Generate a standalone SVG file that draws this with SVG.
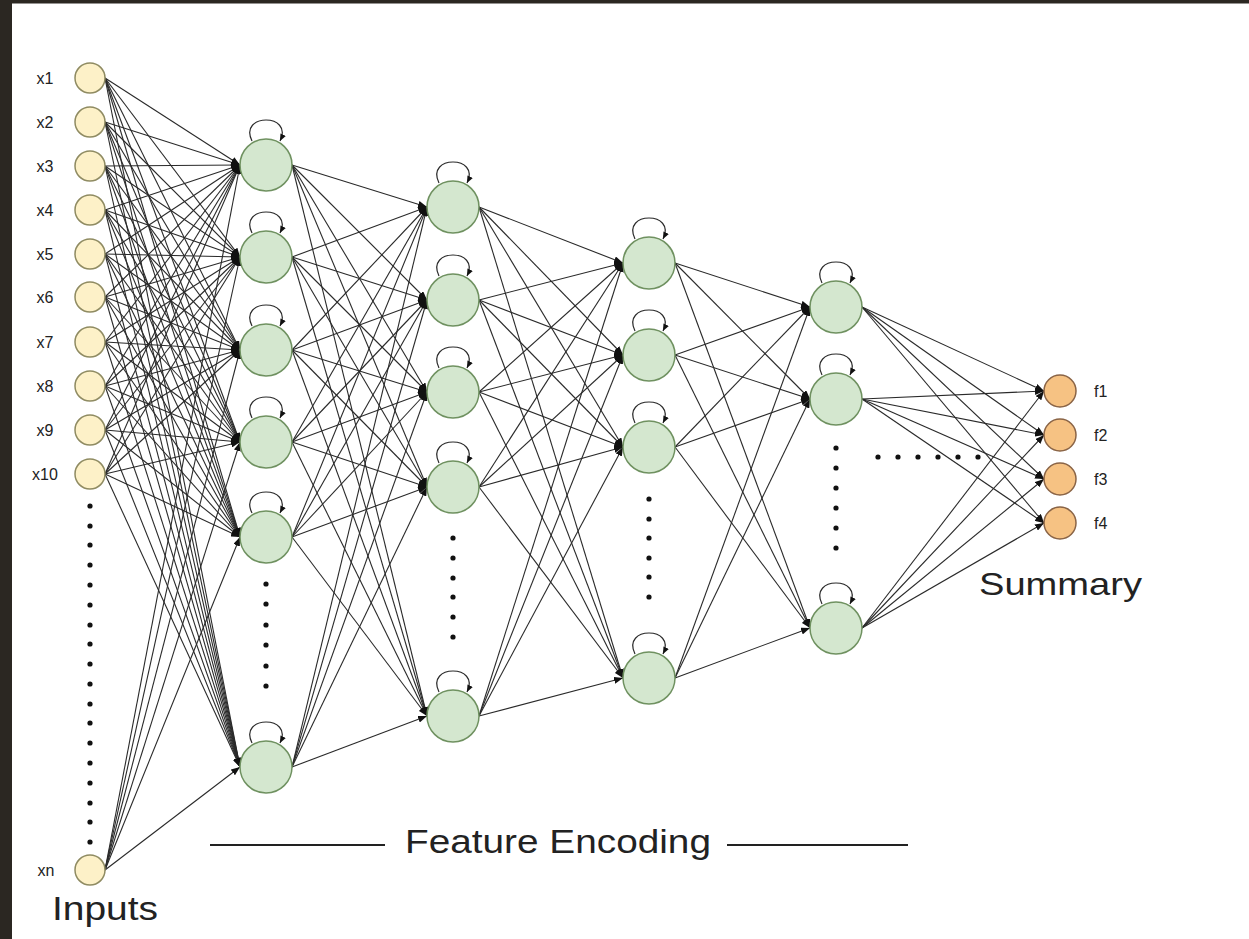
<svg xmlns="http://www.w3.org/2000/svg" width="1249" height="939" viewBox="0 0 1249 939">
  <style>
    .edge { stroke: #2a2a2a; stroke-width: 1.1; fill: none; marker-end: url(#ah); }
    .loop { stroke: #2a2a2a; stroke-width: 1.2; fill: none; marker-end: url(#ahs); }
    .in { fill: #fdf1c8; stroke: #8f8b62; stroke-width: 1.5; }
    .hid { fill: #d4e7cf; stroke: #6f9160; stroke-width: 1.5; }
    .out { fill: #f6c283; stroke: #8a6446; stroke-width: 1.5; }
    .dot { fill: #111; }
    .lbl { font-family: "Liberation Sans", Arial, sans-serif; fill: #222; }
    .small { font-size: 16px; }
    .big { font-size: 34px; }
  </style>
  <defs>
    <marker id="ah" markerWidth="9" markerHeight="7" refX="9" refY="3.5" orient="auto" markerUnits="userSpaceOnUse">
      <path d="M0,0 L9,3.5 L0,7 z" fill="#111"/>
    </marker>
    <marker id="ahs" markerWidth="7" markerHeight="6" refX="7" refY="3" orient="auto" markerUnits="userSpaceOnUse">
      <path d="M0,0 L7,3 L0,6 z" fill="#111"/>
    </marker>
    <circle id="d" r="2.6" class="dot"/>
  </defs>

  <!-- page frame -->
  <rect x="0" y="0" width="1249" height="939" fill="#ffffff"/>
  <rect x="0" y="0" width="1249" height="3.5" fill="#2b2722"/>
  <rect x="0" y="0" width="12" height="939" fill="#2b2722"/>

  <g id="connectors">
    <!-- inputs to encoding layer 1 -->
    <path class="edge" d="M105 78L240 165"/><path class="edge" d="M105 78L240 257"/><path class="edge" d="M105 78L240 350"/><path class="edge" d="M105 78L240 442"/><path class="edge" d="M105 78L240 537"/><path class="edge" d="M105 78L240 767"/>
    <path class="edge" d="M105 122L240 165"/><path class="edge" d="M105 122L240 257"/><path class="edge" d="M105 122L240 350"/><path class="edge" d="M105 122L240 442"/><path class="edge" d="M105 122L240 537"/><path class="edge" d="M105 122L240 767"/>
    <path class="edge" d="M105 166L240 165"/><path class="edge" d="M105 166L240 257"/><path class="edge" d="M105 166L240 350"/><path class="edge" d="M105 166L240 442"/><path class="edge" d="M105 166L240 537"/><path class="edge" d="M105 166L240 767"/>
    <path class="edge" d="M105 210L240 165"/><path class="edge" d="M105 210L240 257"/><path class="edge" d="M105 210L240 350"/><path class="edge" d="M105 210L240 442"/><path class="edge" d="M105 210L240 537"/><path class="edge" d="M105 210L240 767"/>
    <path class="edge" d="M105 254L240 165"/><path class="edge" d="M105 254L240 257"/><path class="edge" d="M105 254L240 350"/><path class="edge" d="M105 254L240 442"/><path class="edge" d="M105 254L240 537"/><path class="edge" d="M105 254L240 767"/>
    <path class="edge" d="M105 297L240 165"/><path class="edge" d="M105 297L240 257"/><path class="edge" d="M105 297L240 350"/><path class="edge" d="M105 297L240 442"/><path class="edge" d="M105 297L240 537"/><path class="edge" d="M105 297L240 767"/>
    <path class="edge" d="M105 342L240 165"/><path class="edge" d="M105 342L240 257"/><path class="edge" d="M105 342L240 350"/><path class="edge" d="M105 342L240 442"/><path class="edge" d="M105 342L240 537"/><path class="edge" d="M105 342L240 767"/>
    <path class="edge" d="M105 386L240 165"/><path class="edge" d="M105 386L240 257"/><path class="edge" d="M105 386L240 350"/><path class="edge" d="M105 386L240 442"/><path class="edge" d="M105 386L240 537"/><path class="edge" d="M105 386L240 767"/>
    <path class="edge" d="M105 430L240 165"/><path class="edge" d="M105 430L240 257"/><path class="edge" d="M105 430L240 350"/><path class="edge" d="M105 430L240 442"/><path class="edge" d="M105 430L240 537"/><path class="edge" d="M105 430L240 767"/>
    <path class="edge" d="M105 474L240 165"/><path class="edge" d="M105 474L240 257"/><path class="edge" d="M105 474L240 350"/><path class="edge" d="M105 474L240 442"/><path class="edge" d="M105 474L240 537"/><path class="edge" d="M105 474L240 767"/>
    <path class="edge" d="M105 870L240 165"/><path class="edge" d="M105 870L240 257"/><path class="edge" d="M105 870L240 350"/><path class="edge" d="M105 870L240 442"/><path class="edge" d="M105 870L240 537"/><path class="edge" d="M105 870L240 767"/>

    <!-- encoding layer 1 to layer 2 -->
    <path class="edge" d="M292 165L427 207"/><path class="edge" d="M292 165L427 300"/><path class="edge" d="M292 165L427 392"/><path class="edge" d="M292 165L427 487"/><path class="edge" d="M292 165L427 716"/>
    <path class="edge" d="M292 257L427 207"/><path class="edge" d="M292 257L427 300"/><path class="edge" d="M292 257L427 392"/><path class="edge" d="M292 257L427 487"/><path class="edge" d="M292 257L427 716"/>
    <path class="edge" d="M292 350L427 207"/><path class="edge" d="M292 350L427 300"/><path class="edge" d="M292 350L427 392"/><path class="edge" d="M292 350L427 487"/><path class="edge" d="M292 350L427 716"/>
    <path class="edge" d="M292 442L427 207"/><path class="edge" d="M292 442L427 300"/><path class="edge" d="M292 442L427 392"/><path class="edge" d="M292 442L427 487"/><path class="edge" d="M292 442L427 716"/>
    <path class="edge" d="M292 537L427 207"/><path class="edge" d="M292 537L427 300"/><path class="edge" d="M292 537L427 392"/><path class="edge" d="M292 537L427 487"/><path class="edge" d="M292 537L427 716"/>
    <path class="edge" d="M292 767L427 207"/><path class="edge" d="M292 767L427 300"/><path class="edge" d="M292 767L427 392"/><path class="edge" d="M292 767L427 487"/><path class="edge" d="M292 767L427 716"/>

    <!-- layer 2 to layer 3 -->
    <path class="edge" d="M479 207L623 263"/><path class="edge" d="M479 207L623 355"/><path class="edge" d="M479 207L623 447"/><path class="edge" d="M479 207L623 678"/>
    <path class="edge" d="M479 300L623 263"/><path class="edge" d="M479 300L623 355"/><path class="edge" d="M479 300L623 447"/><path class="edge" d="M479 300L623 678"/>
    <path class="edge" d="M479 392L623 263"/><path class="edge" d="M479 392L623 355"/><path class="edge" d="M479 392L623 447"/><path class="edge" d="M479 392L623 678"/>
    <path class="edge" d="M479 487L623 263"/><path class="edge" d="M479 487L623 355"/><path class="edge" d="M479 487L623 447"/><path class="edge" d="M479 487L623 678"/>
    <path class="edge" d="M479 716L623 263"/><path class="edge" d="M479 716L623 355"/><path class="edge" d="M479 716L623 447"/><path class="edge" d="M479 716L623 678"/>

    <!-- layer 3 to layer 4 -->
    <path class="edge" d="M675 263L810 307"/><path class="edge" d="M675 263L810 399"/><path class="edge" d="M675 263L810 628"/>
    <path class="edge" d="M675 355L810 307"/><path class="edge" d="M675 355L810 399"/><path class="edge" d="M675 355L810 628"/>
    <path class="edge" d="M675 447L810 307"/><path class="edge" d="M675 447L810 399"/><path class="edge" d="M675 447L810 628"/>
    <path class="edge" d="M675 678L810 307"/><path class="edge" d="M675 678L810 399"/><path class="edge" d="M675 678L810 628"/>

    <!-- layer 4 to summary features -->
    <path class="edge" d="M862 307L1044 391"/><path class="edge" d="M862 307L1044 435"/><path class="edge" d="M862 307L1044 479"/><path class="edge" d="M862 307L1044 523"/>
    <path class="edge" d="M862 399L1044 391"/><path class="edge" d="M862 399L1044 435"/><path class="edge" d="M862 399L1044 479"/><path class="edge" d="M862 399L1044 523"/>
    <path class="edge" d="M862 628L1044 391"/><path class="edge" d="M862 628L1044 435"/><path class="edge" d="M862 628L1044 479"/><path class="edge" d="M862 628L1044 523"/>
  </g>

  <!-- input nodes -->
  <g id="x1"><circle class="in" cx="90" cy="78" r="15"/><text class="lbl small" x="45" y="84" text-anchor="middle">x1</text></g>
  <g id="x2"><circle class="in" cx="90" cy="122" r="15"/><text class="lbl small" x="45" y="128" text-anchor="middle">x2</text></g>
  <g id="x3"><circle class="in" cx="90" cy="166" r="15"/><text class="lbl small" x="45" y="172" text-anchor="middle">x3</text></g>
  <g id="x4"><circle class="in" cx="90" cy="210" r="15"/><text class="lbl small" x="45" y="216" text-anchor="middle">x4</text></g>
  <g id="x5"><circle class="in" cx="90" cy="254" r="15"/><text class="lbl small" x="45" y="260" text-anchor="middle">x5</text></g>
  <g id="x6"><circle class="in" cx="90" cy="297" r="15"/><text class="lbl small" x="45" y="303" text-anchor="middle">x6</text></g>
  <g id="x7"><circle class="in" cx="90" cy="342" r="15"/><text class="lbl small" x="45" y="348" text-anchor="middle">x7</text></g>
  <g id="x8"><circle class="in" cx="90" cy="386" r="15"/><text class="lbl small" x="45" y="392" text-anchor="middle">x8</text></g>
  <g id="x9"><circle class="in" cx="90" cy="430" r="15"/><text class="lbl small" x="45" y="436" text-anchor="middle">x9</text></g>
  <g id="x10"><circle class="in" cx="90" cy="474" r="15"/><text class="lbl small" x="45" y="480" text-anchor="middle">x10</text></g>
  <g id="xn"><circle class="in" cx="90" cy="870" r="15"/><text class="lbl small" x="46" y="876" text-anchor="middle">xn</text></g>

  <!-- encoding layer 1 -->
  <g id="h1-1"><path class="loop" d="M252 141C238 113 294 113 280 141"/><circle class="hid" cx="266" cy="165" r="26"/></g>
  <g id="h1-2"><path class="loop" d="M252 233C238 205 294 205 280 233"/><circle class="hid" cx="266" cy="257" r="26"/></g>
  <g id="h1-3"><path class="loop" d="M252 326C238 298 294 298 280 326"/><circle class="hid" cx="266" cy="350" r="26"/></g>
  <g id="h1-4"><path class="loop" d="M252 418C238 390 294 390 280 418"/><circle class="hid" cx="266" cy="442" r="26"/></g>
  <g id="h1-5"><path class="loop" d="M252 513C238 485 294 485 280 513"/><circle class="hid" cx="266" cy="537" r="26"/></g>
  <g id="h1-n"><path class="loop" d="M252 743C238 715 294 715 280 743"/><circle class="hid" cx="266" cy="767" r="26"/></g>

  <!-- encoding layer 2 -->
  <g id="h2-1"><path class="loop" d="M439 183C425 155 481 155 467 183"/><circle class="hid" cx="453" cy="207" r="26"/></g>
  <g id="h2-2"><path class="loop" d="M439 276C425 248 481 248 467 276"/><circle class="hid" cx="453" cy="300" r="26"/></g>
  <g id="h2-3"><path class="loop" d="M439 368C425 340 481 340 467 368"/><circle class="hid" cx="453" cy="392" r="26"/></g>
  <g id="h2-4"><path class="loop" d="M439 463C425 435 481 435 467 463"/><circle class="hid" cx="453" cy="487" r="26"/></g>
  <g id="h2-n"><path class="loop" d="M439 692C425 664 481 664 467 692"/><circle class="hid" cx="453" cy="716" r="26"/></g>

  <!-- encoding layer 3 -->
  <g id="h3-1"><path class="loop" d="M635 239C621 211 677 211 663 239"/><circle class="hid" cx="649" cy="263" r="26"/></g>
  <g id="h3-2"><path class="loop" d="M635 331C621 303 677 303 663 331"/><circle class="hid" cx="649" cy="355" r="26"/></g>
  <g id="h3-3"><path class="loop" d="M635 423C621 395 677 395 663 423"/><circle class="hid" cx="649" cy="447" r="26"/></g>
  <g id="h3-n"><path class="loop" d="M635 654C621 626 677 626 663 654"/><circle class="hid" cx="649" cy="678" r="26"/></g>

  <!-- encoding layer 4 -->
  <g id="h4-1"><path class="loop" d="M822 283C808 255 864 255 850 283"/><circle class="hid" cx="836" cy="307" r="26"/></g>
  <g id="h4-2"><path class="loop" d="M822 375C808 347 864 347 850 375"/><circle class="hid" cx="836" cy="399" r="26"/></g>
  <g id="h4-n"><path class="loop" d="M822 604C808 576 864 576 850 604"/><circle class="hid" cx="836" cy="628" r="26"/></g>

  <!-- summary features -->
  <g id="f1"><circle class="out" cx="1060" cy="391" r="16"/><text class="lbl small" x="1094" y="397">f1</text></g>
  <g id="f2"><circle class="out" cx="1060" cy="435" r="16"/><text class="lbl small" x="1094" y="441">f2</text></g>
  <g id="f3"><circle class="out" cx="1060" cy="479" r="16"/><text class="lbl small" x="1094" y="485">f3</text></g>
  <g id="f4"><circle class="out" cx="1060" cy="523" r="16"/><text class="lbl small" x="1094" y="529">f4</text></g>

  <!-- ellipsis dots for omitted units -->
  <g id="ellipses">
    <use href="#d" x="90" y="506"/><use href="#d" x="90" y="526"/><use href="#d" x="90" y="545"/><use href="#d" x="90" y="565"/><use href="#d" x="90" y="585"/><use href="#d" x="90" y="605"/>
    <use href="#d" x="90" y="625"/><use href="#d" x="90" y="644"/><use href="#d" x="90" y="664"/><use href="#d" x="90" y="684"/><use href="#d" x="90" y="704"/><use href="#d" x="90" y="723"/>
    <use href="#d" x="90" y="743"/><use href="#d" x="90" y="763"/><use href="#d" x="90" y="783"/><use href="#d" x="90" y="803"/><use href="#d" x="90" y="822"/><use href="#d" x="90" y="842"/>

    <use href="#d" x="266" y="584"/><use href="#d" x="266" y="604"/><use href="#d" x="266" y="625"/><use href="#d" x="266" y="645"/><use href="#d" x="266" y="666"/><use href="#d" x="266" y="686"/>

    <use href="#d" x="453" y="538"/><use href="#d" x="453" y="558"/><use href="#d" x="453" y="578"/><use href="#d" x="453" y="597"/><use href="#d" x="453" y="617"/><use href="#d" x="453" y="637"/>

    <use href="#d" x="649" y="499"/><use href="#d" x="649" y="519"/><use href="#d" x="649" y="538"/><use href="#d" x="649" y="558"/><use href="#d" x="649" y="577"/><use href="#d" x="649" y="597"/>

    <use href="#d" x="836" y="448"/><use href="#d" x="836" y="468"/><use href="#d" x="836" y="488"/><use href="#d" x="836" y="508"/><use href="#d" x="836" y="528"/><use href="#d" x="836" y="548"/>

    <use href="#d" x="878" y="457"/><use href="#d" x="898" y="457"/><use href="#d" x="918" y="457"/><use href="#d" x="938" y="457"/><use href="#d" x="958" y="457"/><use href="#d" x="978" y="457"/>
  </g>

  <!-- section captions -->
  <g id="captions">
    <text class="lbl big" x="52" y="920" textLength="106" lengthAdjust="spacingAndGlyphs">Inputs</text>
    <line x1="210" y1="845" x2="385" y2="845" stroke="#222" stroke-width="2"/>
    <text class="lbl big" x="405" y="853" textLength="306" lengthAdjust="spacingAndGlyphs">Feature Encoding</text>
    <line x1="727" y1="845" x2="908" y2="845" stroke="#222" stroke-width="2"/>
    <text class="lbl" x="979" y="595" textLength="163" lengthAdjust="spacingAndGlyphs" style="font-size:32px">Summary</text>
  </g>
</svg>
